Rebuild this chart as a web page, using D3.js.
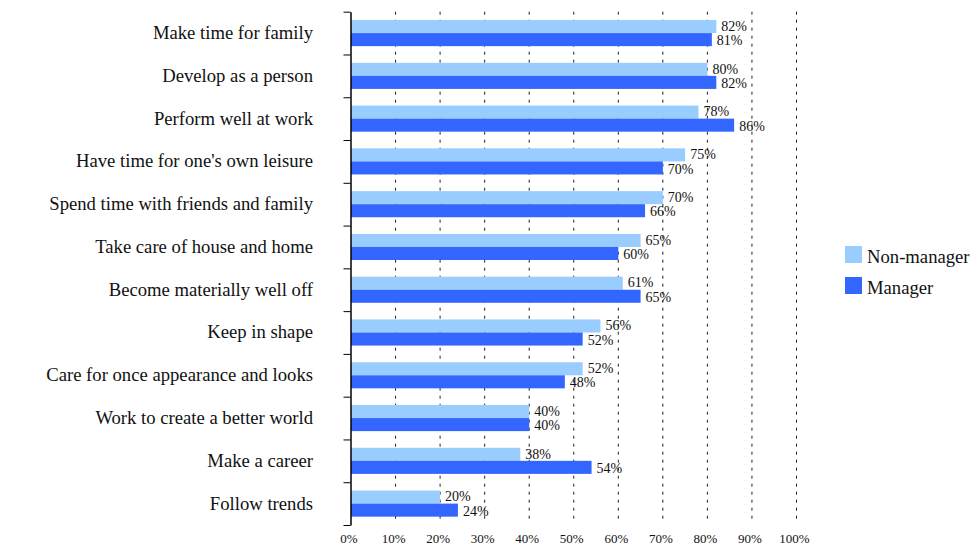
<!DOCTYPE html>
<html>
<head>
<meta charset="utf-8">
<script src="https://cdn.jsdelivr.net/npm/d3@7"></script>
<style>
    body { margin: 0; background: #fff; }
    text { font-family: 'Liberation Serif', 'DejaVu Serif', serif; }
</style>
</head>
<body>
<div id="chart"><svg></svg></div>
<script>
const categories = [
    "Make time for family",
    "Develop as a person",
    "Perform well at work",
    "Have time for one's own leisure",
    "Spend time with friends and family",
    "Take care of house and home",
    "Become materially well off",
    "Keep in shape",
    "Care for once appearance and looks",
    "Work to create a better world",
    "Make a career",
    "Follow trends"
];
const seriesNames = ["Non-manager", "Manager"];
const nonManager = [82, 80, 78, 75, 70, 65, 61, 56, 52, 40, 38, 20];
const manager = [81, 82, 86, 70, 66, 60, 65, 52, 48, 40, 54, 24];
const xTicks = [0, 10, 20, 30, 40, 50, 60, 70, 80, 90, 100];
const colors = ["#99ccff", "#3366ff"];

const FONT = "'Liberation Serif', 'DejaVu Serif', serif";

class BarChart {
    constructor(canvas) {
        this.canvas = canvas;
        this.rows = categories.map((c, i) => ({
            category: c,
            values: [nonManager[i], manager[i]]
        }));
    }

    render() {
        this.calculateDimension();

        this.svg = d3.select(this.canvas)
            .select('svg')
            .attr('width', this.canvasWidth)
            .attr('height', this.canvasHeight)
            .attr('font-family', FONT);

        this.calculateScale();
        this.renderGrid();
        this.renderBars();
        this.renderAxis();
        this.renderLegend();
    }

    calculateDimension() {
        this.canvasWidth = 975;
        this.canvasHeight = 558;
        this.marginLeft = 351;
        this.marginTop = 11.7;
        this.mainWidth = 445.5;
        this.mainHeight = 513.3;
    }

    calculateScale() {
        this.xScale = d3.scaleLinear()
            .domain([0, 100])
            .range([this.marginLeft, this.marginLeft + this.mainWidth]);

        this.yScale = d3.scaleBand()
            .domain(categories)
            .range([this.marginTop, this.marginTop + this.mainHeight])
            .paddingInner(0.39)
            .paddingOuter(0.195);

        this.seriesScale = d3.scaleBand()
            .domain(seriesNames)
            .range([0, this.yScale.bandwidth()]);

        // boundaries between categories, for the y axis ticks
        this.edgeScale = d3.scaleLinear()
            .domain([0, categories.length])
            .range([this.marginTop, this.marginTop + this.mainHeight]);
    }

    renderGrid() {
        this.svg.append('g')
            .attr('class', 'grid')
            .selectAll('line')
            .data(xTicks.filter(d => d > 0))
            .join('line')
            .attr('x1', d => this.xScale(d))
            .attr('x2', d => this.xScale(d))
            .attr('y1', this.marginTop)
            .attr('y2', this.marginTop + this.mainHeight - 2)
            .attr('stroke', '#222')
            .attr('stroke-width', 1)
            .attr('stroke-dasharray', '3,5');
    }

    renderBars() {
        const groups = this.svg.append('g')
            .attr('class', 'bars')
            .selectAll('g')
            .data(this.rows)
            .join('g')
            .attr('transform', d => `translate(0, ${this.yScale(d.category)})`);

        const items = groups.selectAll('g')
            .data(d => d.values.map((v, i) => ({ series: seriesNames[i], value: v, idx: i })))
            .join('g');

        items.append('rect')
            .attr('x', this.xScale(0))
            .attr('y', d => this.seriesScale(d.series))
            .attr('width', d => this.xScale(d.value) - this.xScale(0))
            .attr('height', this.seriesScale.bandwidth())
            .attr('fill', d => colors[d.idx]);

        items.append('text')
            .attr('x', d => this.xScale(d.value) + 5)
            .attr('y', d => this.seriesScale(d.series) + this.seriesScale.bandwidth() / 2)
            .attr('dy', d => d.idx === 0 ? '0.3em' : '0.4em')
            .attr('font-family', FONT)
            .attr('font-size', 14)
            .attr('fill', '#111')
            .text(d => d.value + '%');
    }

    renderAxis() {
        const yAxis = d3.axisLeft(this.edgeScale)
            .tickValues(d3.range(categories.length + 1))
            .tickFormat('')
            .tickSize(7)
            .tickSizeOuter(0);

        const yAxisGroup = this.svg.append('g')
            .attr('class', 'y-axis')
            .attr('transform', `translate(${this.marginLeft - 0.5}, 0)`)
            .call(yAxis);
        yAxisGroup.select('.domain').attr('stroke-width', 1.5);

        this.svg.append('g')
            .attr('class', 'y-labels')
            .selectAll('text')
            .data(categories)
            .join('text')
            .attr('x', this.marginLeft - 38)
            .attr('y', d => this.yScale(d) + this.yScale.bandwidth() / 2)
            .attr('dy', '0.32em')
            .attr('text-anchor', 'end')
            .attr('font-family', FONT)
            .attr('font-size', 18.67)
            .attr('fill', '#111')
            .text(d => d);

        const xAxis = d3.axisBottom(this.xScale)
            .tickValues(xTicks)
            .tickFormat(d => d + '%')
            .tickSize(0);

        const xAxisGroup = this.svg.append('g')
            .attr('class', 'x-axis')
            .attr('transform', `translate(0, ${this.canvasHeight - 18})`)
            .attr('font-family', FONT)
            .call(xAxis);
        xAxisGroup.select('.domain').remove();
        xAxisGroup.attr('font-family', FONT);
        xAxisGroup.selectAll('text')
            .attr('font-family', FONT)
            .attr('font-size', 13)
            .attr('fill', '#111')
            .attr('dx', -2.5)
            .attr('dy', 0);
    }

    renderLegend() {
        const legend = this.svg.append('g')
            .attr('class', 'legend')
            .attr('transform', 'translate(845, 246)');

        const item = legend.selectAll('g')
            .data(seriesNames)
            .join('g')
            .attr('transform', (d, i) => `translate(0, ${i * 31})`);

        item.append('rect')
            .attr('width', 17)
            .attr('height', 17)
            .attr('fill', (d, i) => colors[i]);

        item.append('text')
            .attr('x', 22)
            .attr('y', 17)
            .attr('font-family', FONT)
            .attr('font-size', 18.67)
            .attr('fill', '#111')
            .text(d => d);
    }
}

const chart = new BarChart(document.getElementById('chart'));
chart.render();
</script>
</body>
</html>
